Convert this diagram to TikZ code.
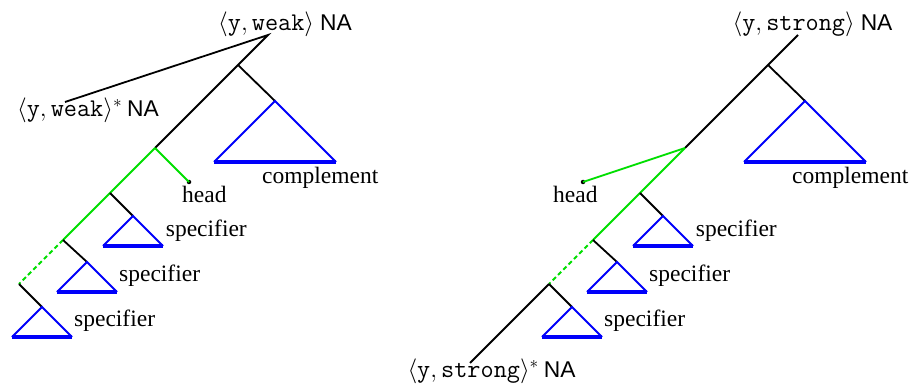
\documentclass[tikz,border=0pt]{standalone}
\usepackage{fontspec}
\setmainfont{Liberation Serif}
\setsansfont{Liberation Sans}
\definecolor{treegreen}{RGB}{0,222,0}
\definecolor{treeblue}{RGB}{0,0,250}
\tikzset{
  edge/.style={draw=black,line width=1.8pt},
  gedge/.style={draw=treegreen,line width=1.8pt},
  gdash/.style={draw=treegreen,line width=1.8pt,dash pattern=on 4.5pt off 3pt},
  tri/.style={draw=treeblue,line width=1.8pt,line join=miter},
  tribase/.style={draw=treeblue,line width=3.5pt},
  word/.style={inner sep=0pt,anchor=base west,font=\fontsize{23.5}{28}\selectfont},
  lab/.style={inner sep=0pt,anchor=base,font=\fontsize{25}{30}\selectfont},
  hdot/.style={fill=black,circle,inner sep=0pt,minimum size=4.5pt}
}
\newcommand{\monoword}[1]{\mbox{\fontsize{25.5}{30}\selectfont\ttfamily #1}}
\newcommand{\naword}{{\fontsize{22.8}{27}\selectfont\sffamily NA}}
\newcommand{\featlab}[1]{$\langle\monoword{y},\monoword{#1}\rangle$\hspace{6pt}\naword}
\newcommand{\featlabstar}[1]{$\langle\monoword{y},\monoword{#1}\rangle^{*}$\hspace{5pt}\naword}
\begin{document}
\begin{tikzpicture}[x=1pt,y=-1pt]
\useasboundingbox (0,0) rectangle (912,390);
% ---------- left tree ----------
\node[lab] (ltop) at (285,30.5) {\featlab{weak}};
\node[lab] (lfoot) at (88,116.7) {\featlabstar{weak}};
\coordinate (lr0) at (268,35);
\coordinate (lr1) at (238,65);
\coordinate (lr2) at (155,148);
\coordinate (lr3) at (110,193);
\coordinate (lr4) at (63,240);
\coordinate (lr5) at (19,284);
\coordinate (lfe) at (65,102);
\node[hdot] (lhead) at (189,182) {};
\coordinate (lca) at (275,101);
\coordinate (lcb1) at (214,162);
\coordinate (lcb2) at (336,162);
\coordinate (ls1a) at (133,216);
\coordinate (ls1b1) at (103,246);
\coordinate (ls1b2) at (163,246);
\coordinate (ls2a) at (87,262);
\coordinate (ls2b1) at (57,292);
\coordinate (ls2b2) at (117,292);
\coordinate (ls3a) at (42,307);
\coordinate (ls3b1) at (12,337);
\coordinate (ls3b2) at (72,337);
\path[edge] (lfe) -- (lr0) -- (lr1) -- (lr2);
\path[edge] (lr1) -- (lca);
\path[gedge] (lr2) -- (lhead.center);
\path[gedge] (lr2) -- (lr3) -- (lr4);
\path[gdash] (lr4) -- (lr5);
\path[edge] (lr3) -- (ls1a);
\path[edge] (lr4) -- (ls2a);
\path[edge] (lr5) -- (ls3a);
\path[tri] (lcb1) -- (lca) -- (lcb2);
\path[tribase] (lcb1) -- (lcb2);
\path[tri] (ls1b1) -- (ls1a) -- (ls1b2);
\path[tribase] (ls1b1) -- (ls1b2);
\path[tri] (ls2b1) -- (ls2a) -- (ls2b2);
\path[tribase] (ls2b1) -- (ls2b2);
\path[tri] (ls3b1) -- (ls3a) -- (ls3b2);
\path[tribase] (ls3b1) -- (ls3b2);
\node[word] (lcomp) at (262,183) {complement};
\node[word] (lheadt) at (182,202) {head};
\node[word] (lspec1) at (165.7,236.7) {specifier};
\node[word] (lspec2) at (119,281.7) {specifier};
\node[word] (lspec3) at (74,326.7) {specifier};
% ---------- right tree ----------
\node[lab] (rtop) at (812.5,30.5) {\featlab{strong}};
\node[lab] (rfoot) at (491.5,377.5) {\featlabstar{strong}};
\coordinate (rr0) at (798,35);
\coordinate (rr1) at (768,65);
\coordinate (rr2) at (685,148);
\coordinate (rr3) at (640,193);
\coordinate (rr4) at (593,240);
\coordinate (rr5) at (549,284);
\coordinate (rfe) at (470,363);
\node[hdot] (rhead) at (583,182) {};
\coordinate (rca) at (805,101);
\coordinate (rcb1) at (744,162);
\coordinate (rcb2) at (866,162);
\coordinate (rs1a) at (663,216);
\coordinate (rs1b1) at (633,246);
\coordinate (rs1b2) at (693,246);
\coordinate (rs2a) at (617,262);
\coordinate (rs2b1) at (587,292);
\coordinate (rs2b2) at (647,292);
\coordinate (rs3a) at (572,307);
\coordinate (rs3b1) at (542,337);
\coordinate (rs3b2) at (602,337);
\path[edge] (rr0) -- (rr1) -- (rr2);
\path[edge] (rr1) -- (rca);
\path[gedge] (rr2) -- (rhead.center);
\path[gedge] (rr2) -- (rr3) -- (rr4);
\path[gdash] (rr4) -- (rr5);
\path[edge] (rr5) -- (rfe);
\path[edge] (rr3) -- (rs1a);
\path[edge] (rr4) -- (rs2a);
\path[edge] (rr5) -- (rs3a);
\path[tri] (rcb1) -- (rca) -- (rcb2);
\path[tribase] (rcb1) -- (rcb2);
\path[tri] (rs1b1) -- (rs1a) -- (rs1b2);
\path[tribase] (rs1b1) -- (rs1b2);
\path[tri] (rs2b1) -- (rs2a) -- (rs2b2);
\path[tribase] (rs2b1) -- (rs2b2);
\path[tri] (rs3b1) -- (rs3a) -- (rs3b2);
\path[tribase] (rs3b1) -- (rs3b2);
\node[word] (rcomp) at (792,183) {complement};
\node[word] (rheadt) at (553,202) {head};
\node[word] (rspec1) at (695.7,236.7) {specifier};
\node[word] (rspec2) at (649,281.7) {specifier};
\node[word] (rspec3) at (604,326.7) {specifier};
\end{tikzpicture}
\end{document}
